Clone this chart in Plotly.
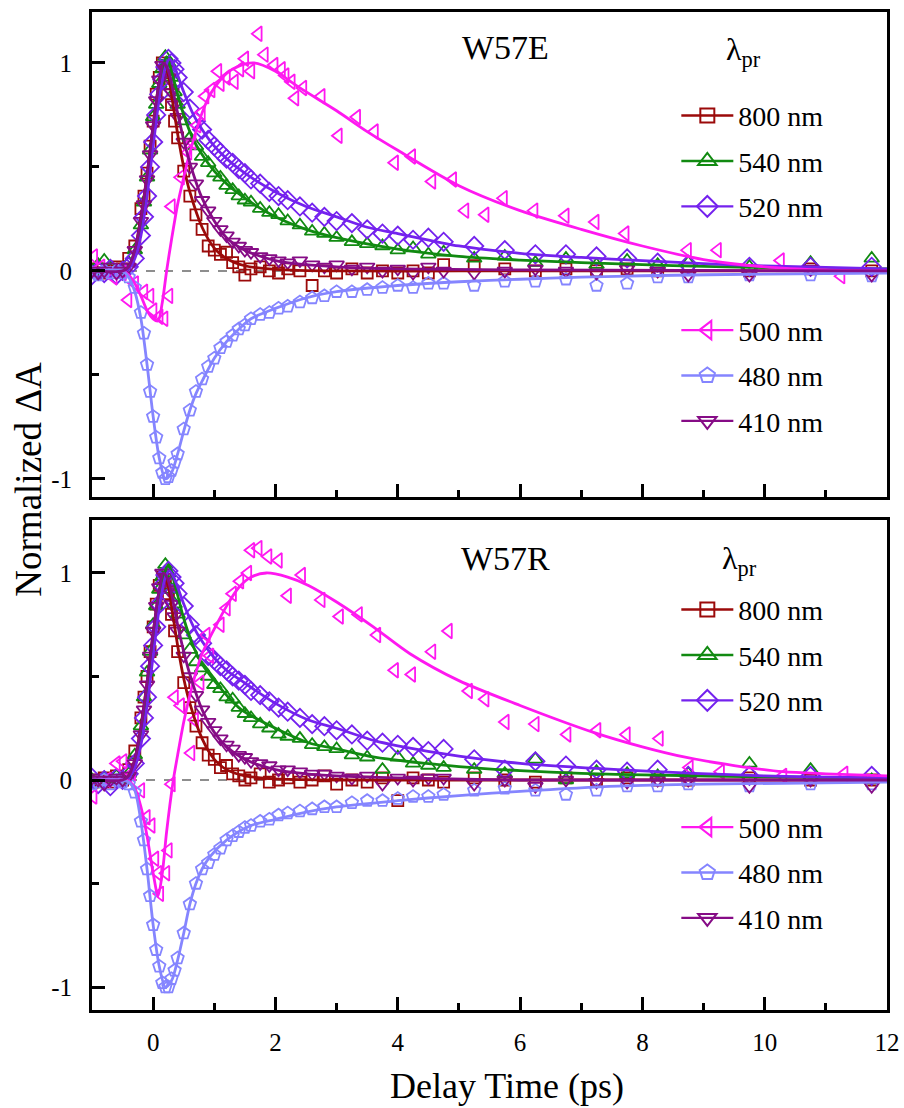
import plotly.graph_objects as go

FONT = "Times New Roman, Liberation Serif, DejaVu Serif, serif"

# ---------------- data ----------------
# common delay grid for the 800/540/520/410/480 nm probes (ps)
t_grid = [
    -1.0, -0.9, -0.8, -0.7, -0.6, -0.5, -0.4, -0.3, -0.2, -0.15,
    -0.1, -0.05, 0.0, 0.05, 0.1, 0.15, 0.2, 0.25, 0.3, 0.35,
    0.4, 0.5, 0.6, 0.7, 0.8, 0.9, 1.0, 1.1, 1.2, 1.3,
    1.4, 1.5, 1.6, 1.75, 1.9, 2.05, 2.2, 2.4, 2.6, 2.8,
    3.0, 3.25, 3.5, 3.75, 4.0, 4.25, 4.5, 4.75, 5.25, 5.75,
    6.25, 6.75, 7.25, 7.75, 8.25, 8.75, 9.75, 10.75, 11.75,
]

# W57E (top panel)
e_800 = [
    0.0, 0.01, -0.01, 0.0, 0.02, 0.01, 0.06, 0.12, 0.3, 0.36,
    0.47, 0.6, 0.72, 0.85, 0.93, 1.0, 0.98, 0.9, 0.8, 0.72,
    0.64, 0.48, 0.36, 0.27, 0.2, 0.12, 0.1, 0.08, 0.09, 0.04,
    0.02, -0.02, 0.01, 0.02, 0.0, -0.01, 0.01, 0.0, -0.07, 0.0,
    -0.01, 0.01, -0.01, 0.0, -0.01, 0.0, -0.01, 0.03, 0.025, 0.01,
    0.0, 0.01, 0.0, 0.01, 0.0, 0.01, 0.0, 0.01, 0.0,
]
e_540 = [
    0.0, 0.03, 0.05, 0.02, 0.0, 0.01, 0.04, 0.1, 0.22, 0.33,
    0.45, 0.58, 0.74, 0.8, 0.9, 0.97, 1.03, 1.0, 0.93, 0.86,
    0.8, 0.72, 0.64, 0.6, 0.55, 0.52, 0.47, 0.45, 0.41, 0.39,
    0.36, 0.34, 0.33, 0.3, 0.28, 0.27, 0.24, 0.22, 0.19, 0.18,
    0.16, 0.14, 0.13, 0.12, 0.1, 0.11, 0.08, 0.09, 0.06, 0.07,
    0.04, 0.06, 0.03, 0.05, 0.03, 0.04, 0.02, 0.04, 0.06,
]
e_520 = [
    -0.02, 0.0, -0.01, 0.01, -0.02, 0.0, 0.02, 0.06, 0.17, 0.26,
    0.36, 0.5, 0.62, 0.75, 0.85, 0.92, 0.98, 1.02, 1.0, 0.97,
    0.93, 0.86, 0.78, 0.72, 0.68, 0.63, 0.6, 0.57, 0.54, 0.52,
    0.49, 0.47, 0.44, 0.42, 0.38, 0.36, 0.34, 0.31, 0.28, 0.26,
    0.24, 0.23, 0.2, 0.18, 0.17, 0.15, 0.16, 0.14, 0.12, 0.1,
    0.08, 0.08, 0.07, 0.06, 0.04, 0.03, 0.02, 0.02, 0.02,
]
e_410 = [
    0.0, -0.01, 0.0, 0.02, -0.01, 0.0, 0.02, 0.1, 0.24, 0.32,
    0.44, 0.56, 0.7, 0.82, 0.92, 0.99, 0.97, 0.93, 0.86, 0.8,
    0.74, 0.62, 0.5, 0.42, 0.34, 0.29, 0.24, 0.2, 0.17, 0.14,
    0.12, 0.1, 0.09, 0.07, 0.06, 0.05, 0.04, 0.05, 0.03, 0.02,
    0.03, 0.01, 0.02, 0.0, 0.01, -0.01, 0.02, 0.0, -0.01, 0.0,
    0.01, 0.0, -0.01, 0.01, 0.0, -0.02, -0.02, 0.01, -0.02,
]
e_480 = [
    -0.01, -0.02, 0.0, -0.01, 0.0, -0.01, -0.03, -0.08, -0.2, -0.3,
    -0.45, -0.58, -0.7, -0.8, -0.9, -0.97, -1.0, -0.99, -0.96, -0.92,
    -0.88, -0.76, -0.67, -0.58, -0.52, -0.46, -0.42, -0.37, -0.34, -0.31,
    -0.28, -0.26, -0.23, -0.21, -0.2, -0.18, -0.17, -0.15, -0.13, -0.12,
    -0.1, -0.1, -0.09, -0.08, -0.07, -0.08, -0.06, -0.06, -0.07, -0.05,
    -0.05, -0.04, -0.07, -0.06, -0.03, -0.03, -0.02, -0.02, -0.025,
]
e_500_t = [
    -0.97, -0.85, -0.65, -0.5, -0.41, -0.3, -0.15, -0.05, 0.0, 0.1,
    0.18, 0.26, 0.3, 0.45, 0.57, 0.64, 0.72, 0.79, 0.85, 0.95,
    1.06, 1.1, 1.2, 1.33, 1.42, 1.5, 1.6, 1.72, 1.82, 1.98,
    2.1, 2.16, 2.26, 2.32, 2.45, 2.75, 3.03, 3.33, 3.62, 3.95,
    4.23, 4.56, 4.9, 5.1, 5.43, 5.73, 6.23, 6.74, 7.23, 7.72,
    8.74, 9.23, 10.26, 11.25,
]
e_500 = [
    0.07, 0.02, -0.03, -0.01, -0.14, -0.06, -0.1, -0.12, -0.19, -0.22,
    -0.23, -0.12, 0.31, 0.45, 0.57, 0.62, 0.7, 0.76, 0.84, 0.87,
    0.96, 0.9, 0.93, 0.91, 0.97, 1.02, 0.96, 1.14, 1.04, 0.99,
    0.97, 0.94, 0.91, 0.83, 0.88, 0.84, 0.65, 0.74, 0.67, 0.52,
    0.55, 0.43, 0.44, 0.29, 0.27, 0.35, 0.29, 0.265, 0.235, 0.18,
    0.1, 0.1, 0.05, -0.025,
]

# W57R (bottom panel)
r_800 = [
    -0.01, 0.0, 0.01, -0.01, 0.02, 0.0, 0.05, 0.14, 0.3, 0.4,
    0.5, 0.62, 0.74, 0.85, 0.94, 0.98, 0.97, 0.9, 0.8, 0.72,
    0.62, 0.47, 0.35, 0.26, 0.18, 0.12, 0.1, 0.06, 0.07, 0.03,
    0.02, 0.0, 0.01, 0.03, -0.01, 0.0, 0.01, -0.01, 0.0, 0.02,
    -0.02, 0.0, -0.01, 0.01, -0.1, 0.01, 0.0, -0.01, 0.01, 0.0,
    -0.01, 0.01, 0.0, 0.01, 0.0, 0.0, 0.01, 0.0, 0.0,
]
r_540 = [
    0.0, -0.02, 0.01, 0.0, 0.02, 0.0, 0.03, 0.12, 0.26, 0.4,
    0.52, 0.62, 0.75, 0.84, 0.92, 0.98, 1.04, 1.0, 0.92, 0.85,
    0.8, 0.7, 0.63, 0.57, 0.54, 0.5, 0.46, 0.44, 0.4, 0.39,
    0.35, 0.32, 0.3, 0.27, 0.25, 0.22, 0.21, 0.2, 0.17, 0.16,
    0.15, 0.12, 0.11, 0.05, 0.11, 0.08, 0.07, 0.06, 0.05, 0.03,
    0.1, 0.0, 0.04, 0.03, 0.02, 0.03, 0.08, 0.05, 0.0,
]
r_520 = [
    0.01, -0.02, 0.0, -0.03, 0.01, 0.0, 0.03, 0.08, 0.2, 0.3,
    0.4, 0.55, 0.65, 0.74, 0.85, 0.94, 0.99, 1.01, 0.98, 0.95,
    0.9, 0.84, 0.75, 0.7, 0.66, 0.6, 0.58, 0.55, 0.53, 0.5,
    0.48, 0.46, 0.43, 0.41, 0.38, 0.35, 0.33, 0.3, 0.27, 0.26,
    0.24, 0.22, 0.19, 0.18, 0.17, 0.16, 0.14, 0.15, 0.1, 0.05,
    0.09, 0.07, 0.05, 0.04, 0.05, 0.02, 0.02, 0.02, 0.02,
]
r_410 = [
    0.01, 0.0, -0.02, 0.0, 0.01, 0.0, 0.02, 0.08, 0.22, 0.34,
    0.46, 0.6, 0.72, 0.84, 0.93, 1.0, 0.98, 0.92, 0.85, 0.79,
    0.72, 0.6, 0.5, 0.41, 0.34, 0.28, 0.24, 0.2, 0.17, 0.15,
    0.12, 0.11, 0.09, 0.08, 0.07, 0.05, 0.05, 0.04, 0.03, 0.03,
    0.02, 0.01, 0.02, -0.02, 0.01, 0.0, 0.01, 0.01, -0.02, 0.0,
    -0.03, 0.0, -0.01, -0.01, 0.0, 0.0, -0.03, 0.0, -0.03,
]
r_480 = [
    -0.02, -0.01, 0.0, -0.02, 0.0, -0.01, -0.02, -0.06, -0.2, -0.29,
    -0.43, -0.56, -0.7, -0.82, -0.9, -0.98, -1.0, -1.0, -0.96, -0.92,
    -0.86, -0.74, -0.6, -0.5, -0.43, -0.4, -0.36, -0.33, -0.29, -0.27,
    -0.25, -0.23, -0.22, -0.2, -0.19, -0.17, -0.16, -0.15, -0.14, -0.13,
    -0.13, -0.11, -0.1, -0.1, -0.09, -0.08, -0.08, -0.07, -0.05, -0.04,
    -0.05, -0.07, -0.05, -0.03, -0.03, -0.02, -0.03, -0.02, -0.02,
]
r_500_t = [
    -0.98, -0.75, -0.6, -0.49, -0.35, -0.2, -0.11, -0.03, 0.03, 0.08,
    0.11, 0.21, 0.25, 0.3, 0.35, 0.45, 0.62, 0.68, 0.77, 0.87,
    0.93, 1.1, 1.2, 1.3, 1.42, 1.55, 1.6, 1.72, 1.88, 2.05,
    2.2, 2.43, 2.75, 3.05, 3.36, 3.66, 3.95, 4.23, 4.56, 4.83,
    5.16, 5.43, 5.76, 6.25, 6.77, 7.26, 7.74, 8.28, 8.77, 9.28,
    10.3, 11.3,
]
r_500 = [
    -0.08, 0.0, 0.08, 0.09, 0.03, -0.05, -0.18, -0.22, -0.38, -0.45,
    -0.55, -0.45, -0.34, -0.02, 0.4, 0.36, 0.13, 0.29, 0.47, 0.7,
    0.6, 0.75, 0.83, 0.9, 0.96, 1.0, 1.11, 1.12, 1.08, 1.06,
    0.89, 0.99, 0.87, 0.79, 0.8, 0.7, 0.53, 0.51, 0.62, 0.72,
    0.43, 0.39, 0.28, 0.27, 0.22, 0.24, 0.22, 0.2, 0.06, 0.04,
    0.02, 0.03,
]

# fitted curves (knots)
fe_800_t = [-1, -0.5, -0.4, -0.3, -0.2, -0.1, 0.0, 0.1, 0.18, 0.25, 0.3, 0.4, 0.5, 0.6, 0.8, 1.0, 1.2, 1.5, 2.0, 3.0, 5.0, 8.0, 12.0]
fe_800 = [0, 0.0, 0.02, 0.1, 0.26, 0.46, 0.7, 0.91, 1.0, 0.94, 0.85, 0.66, 0.5, 0.38, 0.21, 0.11, 0.06, 0.025, 0.008, 0.0, 0.0, 0.0, 0.0]
fe_540_t = [-1, -0.5, -0.4, -0.3, -0.2, -0.1, 0.0, 0.1, 0.22, 0.3, 0.4, 0.5, 0.66, 0.8, 1.0, 1.2, 1.5, 2.0, 2.5, 3.0, 4.0, 5.0, 6.0, 7.0, 8.0, 9.0, 10.0, 12.0]
fe_540 = [0, 0, 0.02, 0.09, 0.22, 0.43, 0.68, 0.9, 1.03, 0.96, 0.85, 0.75, 0.63, 0.56, 0.48, 0.42, 0.35, 0.26, 0.2, 0.16, 0.105, 0.07, 0.052, 0.04, 0.03, 0.022, 0.016, 0.01]
fe_520_t = [-1, -0.5, -0.4, -0.3, -0.2, -0.1, 0.0, 0.1, 0.2, 0.27, 0.35, 0.5, 0.66, 0.8, 1.0, 1.2, 1.5, 2.0, 2.5, 3.0, 3.5, 4.0, 5.0, 6.0, 7.0, 8.0, 9.0, 10.0, 12.0]
fe_520 = [0, 0, 0.01, 0.06, 0.17, 0.36, 0.6, 0.83, 0.98, 1.02, 0.98, 0.86, 0.75, 0.68, 0.6, 0.54, 0.47, 0.38, 0.31, 0.26, 0.21, 0.18, 0.12, 0.085, 0.065, 0.05, 0.035, 0.024, 0.01]
fe_410_t = [-1, -0.5, -0.4, -0.3, -0.2, -0.1, 0.0, 0.1, 0.17, 0.25, 0.3, 0.4, 0.5, 0.6, 0.8, 1.0, 1.2, 1.5, 2.0, 2.5, 3.0, 4.0, 6.0, 12.0]
fe_410 = [0, 0, 0.02, 0.1, 0.25, 0.46, 0.7, 0.91, 1.0, 0.96, 0.9, 0.76, 0.63, 0.52, 0.35, 0.24, 0.16, 0.1, 0.05, 0.03, 0.02, 0.01, 0.005, 0.0]
fe_480_t = [-1, -0.5, -0.4, -0.3, -0.2, -0.1, 0.0, 0.1, 0.2, 0.3, 0.4, 0.5, 0.6, 0.7, 0.8, 1.0, 1.2, 1.4, 1.6, 2.0, 2.5, 3.0, 4.0, 5.0, 6.0, 7.0, 8.0, 10.0, 12.0]
fe_480 = [0, 0, -0.03, -0.1, -0.23, -0.45, -0.7, -0.9, -1.0, -0.97, -0.88, -0.77, -0.67, -0.59, -0.53, -0.42, -0.34, -0.28, -0.23, -0.18, -0.13, -0.1, -0.07, -0.052, -0.04, -0.03, -0.023, -0.015, -0.01]
fe_500_t = [-1, -0.5, -0.4, -0.3, -0.2, -0.1, 0.0, 0.08, 0.15, 0.22, 0.3, 0.4, 0.5, 0.6, 0.7, 0.8, 0.9, 1.0, 1.2, 1.4, 1.65, 2.0, 2.4, 3.0, 3.5, 4.0, 5.0, 6.0, 7.0, 8.0, 9.0, 10.0, 11.0, 12.0]
fe_500 = [0, 0, -0.02, -0.06, -0.12, -0.19, -0.23, -0.24, -0.15, 0.0, 0.15, 0.32, 0.45, 0.57, 0.67, 0.76, 0.83, 0.88, 0.95, 0.985, 1.0, 0.96, 0.88, 0.77, 0.67, 0.58, 0.41, 0.29, 0.2, 0.12, 0.055, 0.02, 0.005, 0.0]

fr_800_t = fe_800_t
fr_800 = [0, 0.0, 0.02, 0.1, 0.26, 0.47, 0.71, 0.91, 0.99, 0.93, 0.84, 0.65, 0.49, 0.37, 0.2, 0.1, 0.05, 0.02, 0.005, 0.0, 0.0, 0.0, 0.0]
fr_540_t = [-1, -0.5, -0.4, -0.3, -0.2, -0.1, 0.0, 0.1, 0.25, 0.35, 0.5, 0.65, 0.8, 1.0, 1.2, 1.44, 2.0, 2.54, 3.0, 3.62, 5.0, 6.0, 7.0, 8.0, 10.0, 12.0]
fr_540 = [0, 0, 0.02, 0.09, 0.22, 0.43, 0.68, 0.9, 1.04, 0.95, 0.78, 0.65, 0.56, 0.48, 0.41, 0.34, 0.25, 0.18, 0.15, 0.11, 0.065, 0.045, 0.032, 0.025, 0.015, 0.01]
fr_520_t = [-1, -0.5, -0.4, -0.3, -0.2, -0.1, 0.0, 0.1, 0.2, 0.27, 0.35, 0.5, 0.66, 0.8, 1.0, 1.2, 1.44, 2.0, 2.54, 3.0, 3.62, 4.0, 5.0, 6.0, 7.6, 10.0, 12.0]
fr_520 = [0, 0, 0.01, 0.06, 0.17, 0.36, 0.6, 0.83, 0.98, 1.01, 0.97, 0.85, 0.74, 0.67, 0.59, 0.53, 0.48, 0.37, 0.29, 0.25, 0.19, 0.165, 0.115, 0.08, 0.05, 0.02, 0.01]
fr_410_t = fe_410_t
fr_410 = [0, 0, 0.02, 0.1, 0.25, 0.47, 0.71, 0.92, 1.0, 0.96, 0.9, 0.75, 0.62, 0.51, 0.34, 0.23, 0.16, 0.1, 0.05, 0.03, 0.02, 0.01, 0.0, 0.0]
fr_480_t = [-1, -0.5, -0.4, -0.3, -0.2, -0.1, 0.0, 0.1, 0.2, 0.3, 0.4, 0.5, 0.6, 0.7, 0.8, 0.93, 1.2, 1.6, 2.0, 2.5, 3.0, 4.0, 5.0, 6.0, 7.6, 9.0, 12.0]
fr_480 = [0, 0, -0.01, -0.05, -0.2, -0.43, -0.7, -0.9, -1.0, -0.97, -0.87, -0.74, -0.6, -0.5, -0.43, -0.37, -0.29, -0.22, -0.19, -0.155, -0.13, -0.1, -0.075, -0.055, -0.03, -0.02, -0.01]
fr_500_t = [-1, -0.4, -0.3, -0.2, -0.1, 0.0, 0.08, 0.15, 0.22, 0.33, 0.4, 0.5, 0.6, 0.7, 0.8, 0.93, 1.0, 1.2, 1.4, 1.6, 1.85, 2.2, 2.54, 3.0, 3.6, 4.2, 5.0, 6.0, 7.2, 8.0, 8.7, 9.5, 10.3, 11.0, 12.0]
fr_500 = [0, -0.005, -0.04, -0.13, -0.27, -0.45, -0.56, -0.45, -0.25, 0.0, 0.12, 0.28, 0.41, 0.52, 0.61, 0.69, 0.73, 0.84, 0.93, 0.98, 1.0, 0.98, 0.94, 0.86, 0.74, 0.61, 0.48, 0.36, 0.23, 0.16, 0.11, 0.07, 0.04, 0.03, 0.02]

names = ["800 nm", "540 nm", "520 nm", "500 nm", "480 nm", "410 nm"]
colors = ["#9b0a0a", "#118a11", "#7422ee", "#ff18f0", "#8585ff", "#860c86"]
symbols = ["square-open", "triangle-up-open", "diamond-open", "triangle-left-open", "pentagon-open", "triangle-down-open"]
msizes = [11, 13, 14, 13, 13, 13]

top_points = [(t_grid, e_800), (t_grid, e_540), (t_grid, e_520), (e_500_t, e_500), (t_grid, e_480), (t_grid, e_410)]
top_fits = [(fe_800_t, fe_800), (fe_540_t, fe_540), (fe_520_t, fe_520), (fe_500_t, fe_500), (fe_480_t, fe_480), (fe_410_t, fe_410)]
bot_points = [(t_grid, r_800), (t_grid, r_540), (t_grid, r_520), (r_500_t, r_500), (t_grid, r_480), (t_grid, r_410)]
bot_fits = [(fr_800_t, fr_800), (fr_540_t, fr_540), (fr_520_t, fr_520), (fr_500_t, fr_500), (fr_480_t, fr_480), (fr_410_t, fr_410)]

for xs, ys in top_points + top_fits + bot_points + bot_fits:
    assert len(xs) == len(ys), (len(xs), len(ys))

fig = go.Figure()


def add_panel(xa, ya, points, fits, legends):
    for i, (xs, ys) in enumerate(points):
        fig.add_trace(go.Scatter(
            x=xs, y=ys, xaxis=xa, yaxis=ya, mode="markers", showlegend=False,
            marker=dict(symbol=symbols[i], size=msizes[i], color=colors[i],
                        line=dict(width=1.8, color=colors[i])),
        ))
    for i, (xs, ys) in enumerate(fits):
        fig.add_trace(go.Scatter(
            x=xs, y=ys, xaxis=xa, yaxis=ya, mode="lines", showlegend=False,
            line=dict(color=colors[i], width=2.8, shape="spline", smoothing=0.8),
        ))
    # legend entries (line through open marker, as in Origin)
    for i, name in enumerate(names):
        fig.add_trace(go.Scatter(
            x=[None], y=[None], xaxis=xa, yaxis=ya, mode="lines+markers", name=name,
            legend=legends[0] if i < 3 else legends[1], legendgroup=ya + name,
            marker=dict(symbol=symbols[i], size=msizes[i] + 3, color=colors[i],
                        line=dict(width=2, color=colors[i])),
            line=dict(color=colors[i], width=2.4),
        ))


add_panel("x", "y", top_points, top_fits, ["legend", "legend2"])
add_panel("x2", "y2", bot_points, bot_fits, ["legend3", "legend4"])

axis_common = dict(
    showline=True, linecolor="black", linewidth=3, mirror=True,
    ticks="inside", ticklen=13, tickwidth=2.5, tickcolor="black",
    showgrid=False, zeroline=False, automargin=False,
    tickfont=dict(family=FONT, size=25, color="black"),
)
xcommon = dict(axis_common, range=[-1, 12], tick0=0, dtick=2,
               minor=dict(ticks="inside", ticklen=7, tickwidth=2.5, tickcolor="black", dtick=1, tick0=1))
ycommon = dict(axis_common, tickvals=[-1, 0, 1], ticktext=["-1", "0", "1"], ticklabelstandoff=12,
               minor=dict(ticks="inside", ticklen=7, tickwidth=2.5, tickcolor="black", tickvals=[-0.5, 0.5]))

legend_common = dict(
    xanchor="left", yanchor="top", bgcolor="rgba(0,0,0,0)",
    font=dict(family=FONT, size=28, color="black"),
    itemwidth=52, traceorder="grouped", tracegroupgap=6,
)

zero_line = dict(type="line", xref="x domain", x0=0, x1=1, y0=0, y1=0,
                 line=dict(color="#8e8e8e", width=2, dash="dash"), layer="below")


def label(text, x, y, size, **kw):
    return dict(text=text, x=x, y=y, xref="paper", yref="paper", showarrow=False,
                xanchor="center", yanchor="middle",
                font=dict(family=FONT, size=size, color="black"), **kw)


fig.update_layout(
    width=904, height=1108,
    margin=dict(l=92, r=17, t=12, b=98, autoexpand=False),
    paper_bgcolor="white", plot_bgcolor="white",
    font=dict(family=FONT, color="black"),
    xaxis=dict(xcommon, anchor="y", domain=[0, 1], showticklabels=False),
    yaxis=dict(ycommon, anchor="x", domain=[0.514, 1.0], range=[-1.087, 1.245]),
    xaxis2=dict(xcommon, anchor="y2", domain=[0, 1], ticklabelstandoff=8),
    yaxis2=dict(ycommon, anchor="x2", domain=[0.0, 0.491], range=[-1.111, 1.256]),
    legend=dict(legend_common, x=0.735, y=0.921),
    legend2=dict(legend_common, x=0.735, y=0.706),
    legend3=dict(legend_common, x=0.735, y=0.426),
    legend4=dict(legend_common, x=0.735, y=0.208),
    shapes=[dict(zero_line, yref="y"), dict(zero_line, xref="x2 domain", yref="y2")],
    annotations=[
        label("W57E", 0.52, 0.964, 34),
        label("W57R", 0.52, 0.452, 34),
        label("λ<sub>pr</sub>", 0.82, 0.96, 32),
        label("λ<sub>pr</sub>", 0.815, 0.45, 32),
        label("Delay Time (ps)", 0.522, -0.076, 36),
        label("Normalized ΔA", -0.081, 0.532, 37, textangle=-90),
    ],
)

# drop the browser's default 8 px body margin so the figure fills the window exactly
fig.write_html(
    "out.html",
    config={"displayModeBar": False},
    post_script="document.body.style.margin='0';document.documentElement.style.overflow='hidden';",
)
